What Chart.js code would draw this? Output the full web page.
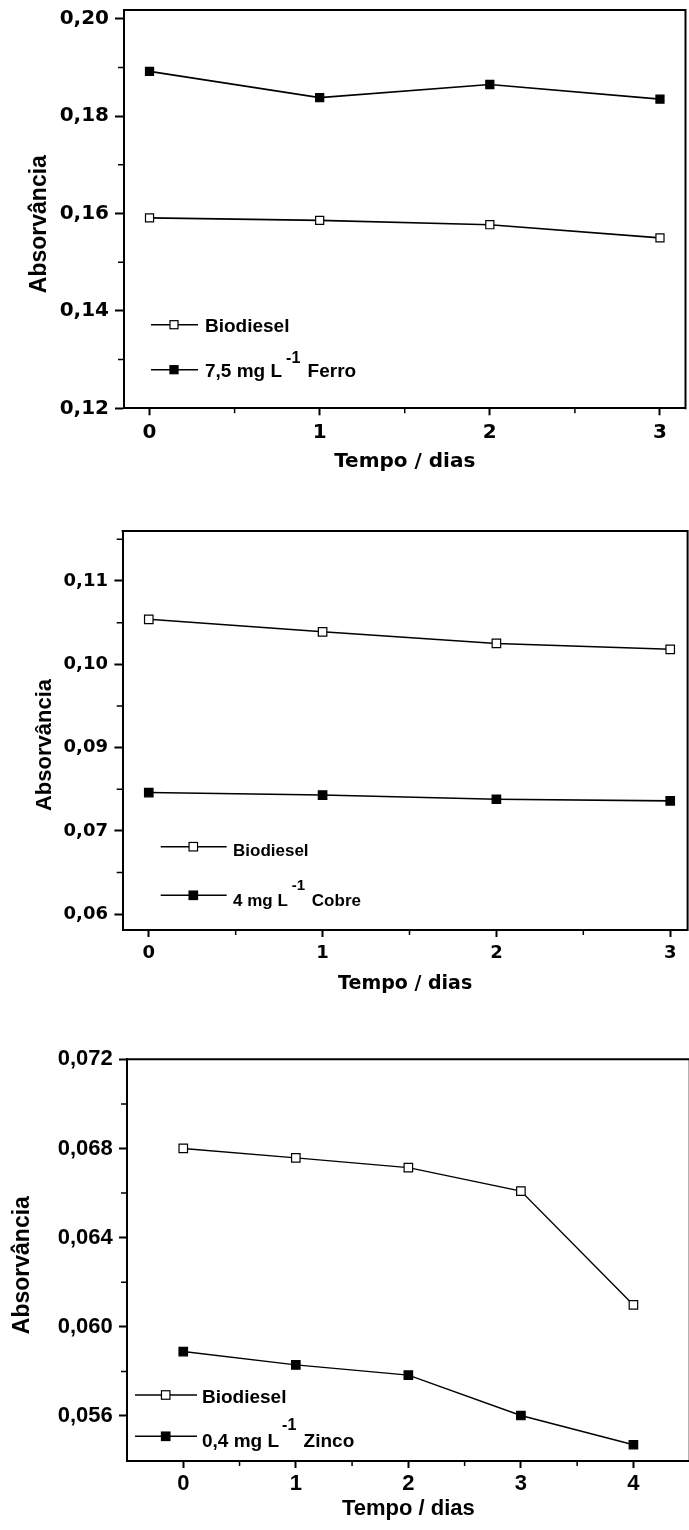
<!DOCTYPE html>
<html>
<head>
<meta charset="utf-8">
<script src="https://cdn.jsdelivr.net/npm/chart.js@4.4.1/dist/chart.umd.min.js"></script>
<style>
html,body{margin:0;padding:0;background:#fff;}
#wrap{position:relative;width:689px;height:1530px;overflow:hidden;background:#fff;}
canvas{position:absolute;left:0;}
</style>
</head>
<body>
<div id="wrap">
<canvas id="c1" width="700" height="480" style="top:0px"></canvas>
<canvas id="c2" width="700" height="520" style="top:480px"></canvas>
<canvas id="c3" width="700" height="530" style="top:1000px"></canvas>
</div>
<script>
// ---------- DATA ----------
const xTitle = 'Tempo / dias';
const yTitle = 'Absorvância';

// Panel 1 (Ferro)
const days1 = [0, 1, 2, 3];
const biodiesel1 = [0.1591, 0.1586, 0.1577, 0.1550];
const ferro = [0.1892, 0.1838, 0.1865, 0.1835];
const xTicks1 = [0, 1, 2, 3];
const yTicks1 = [0.12, 0.14, 0.16, 0.18, 0.20];
const yTickLabels1 = ['0,12', '0,14', '0,16', '0,18', '0,20'];
const legend1 = [['Biodiesel'], ['7,5 mg L', '-1', ' Ferro']];

// Panel 2 (Cobre)
const days2 = [0, 1, 2, 3];
const biodiesel2 = [0.1054, 0.1039, 0.1025, 0.1018];
const cobre = [0.0846, 0.0843, 0.0838, 0.0836];
const xTicks2 = [0, 1, 2, 3];
const yTicks2 = [0.07, 0.08, 0.09, 0.10, 0.11];
const yTickLabels2 = ['0,06', '0,07', '0,09', '0,10', '0,11'];
const legend2 = [['Biodiesel'], ['4 mg L', '-1', ' Cobre']];

// Panel 3 (Zinco)
const days3 = [0, 1, 2, 3, 4];
const biodiesel3 = [0.0680, 0.06758, 0.06714, 0.06609, 0.06098];
const zinco = [0.05889, 0.05829, 0.05783, 0.05602, 0.05471];
const xTicks3 = [0, 1, 2, 3, 4];
const yTicks3 = [0.056, 0.060, 0.064, 0.068, 0.072];
const yTickLabels3 = ['0,056', '0,060', '0,064', '0,068', '0,072'];
const legend3 = [['Biodiesel'], ['0,4 mg L', '-1', ' Zinco']];

// ---------- PLUGINS ----------
const panelDeco = {
  id: 'panelDeco',
  afterDraw(chart, args, o) {
    const ctx = chart.ctx, a = chart.chartArea;
    const xs = chart.scales.x, ys = chart.scales.y;
    ctx.save();
    ctx.strokeStyle = '#000';
    ctx.lineWidth = 2;
    ctx.beginPath();
    ctx.moveTo(a.left - 1, a.top);
    ctx.lineTo(a.right, a.top);
    ctx.lineTo(a.right, a.bottom + 1);
    ctx.stroke();
    // minor ticks (half steps between majors)
    ctx.lineWidth = 1.5;
    ctx.beginPath();
    const minor = (scale, majors) => {
      const half = (majors[1] - majors[0]) / 2;
      const out = [];
      let v = majors[0] - half * Math.floor((majors[0] - scale.min) / half + 1e-9);
      for (; v <= scale.max + 1e-12; v += half) {
        if (!majors.some(m => Math.abs(m - v) < half * 0.01)) out.push(v);
      }
      return out;
    };
    minor(xs, o.xMajor).forEach(v => {
      const px = xs.getPixelForValue(v);
      if (px < a.left + 1 || px > a.right - 1) return;
      ctx.moveTo(px, a.bottom); ctx.lineTo(px, a.bottom + o.xMinorLen);
    });
    minor(ys, o.yMajor).forEach(v => {
      const py = ys.getPixelForValue(v);
      if (py < a.top + 1 || py > a.bottom - 1) return;
      ctx.moveTo(a.left, py); ctx.lineTo(a.left - o.yMinorLen, py);
    });
    ctx.stroke();
    // vertical axis title (rotated), centred slightly below the plot middle as in the original
    ctx.fillStyle = '#000';
    ctx.font = 'bold ' + o.yTitleSize + 'px "Liberation Sans", Arial, sans-serif';
    ctx.textAlign = 'center';
    ctx.textBaseline = 'middle';
    ctx.translate(o.yTitleX, (a.top + a.bottom) / 2 + o.yTitleShift);
    ctx.rotate(-Math.PI / 2);
    ctx.fillText(yTitle, 0, 0);
    ctx.restore();
  }
};

const insetLegend = {
  id: 'insetLegend',
  afterDraw(chart, args, o) {
    const ctx = chart.ctx;
    chart.data.datasets.forEach((ds, i) => {
      const y = o.rows[i];
      ctx.save();
      ctx.strokeStyle = '#000';
      ctx.lineWidth = o.lineWidth;
      ctx.beginPath();
      ctx.moveTo(o.x0, y); ctx.lineTo(o.x1, y);
      ctx.stroke();
      const s = ds.pointRadius * Math.SQRT2;
      ctx.fillStyle = ds.pointBackgroundColor;
      ctx.fillRect(o.mx - s / 2, y - s / 2, s, s);
      ctx.lineWidth = ds.pointBorderWidth;
      ctx.strokeRect(o.mx - s / 2, y - s / 2, s, s);
      const parts = o.labels[i];
      const base = y + o.dy[i];
      ctx.fillStyle = '#000';
      ctx.textBaseline = 'alphabetic';
      ctx.textAlign = 'left';
      ctx.font = 'bold ' + o.size + 'px "Liberation Sans", Arial, sans-serif';
      let x = o.tx;
      ctx.fillText(parts[0], x, base);
      x += ctx.measureText(parts[0]).width;
      if (parts.length > 1) {
        x += o.supGap;
        ctx.font = 'bold ' + o.supSize + 'px "Liberation Sans", Arial, sans-serif';
        ctx.fillText(parts[1], x, base - o.supRaise);
        x += ctx.measureText(parts[1]).width + o.afterGap;
        ctx.font = 'bold ' + o.size + 'px "Liberation Sans", Arial, sans-serif';
        ctx.fillText(parts[2], x, base);
      }
      ctx.restore();
    });
  }
};

// ---------- BUILDERS ----------
function dataset(label, xs, ys, filled, r, lw) {
  return {
    label: label,
    data: xs.map((x, i) => ({ x: x, y: ys[i] })),
    borderColor: '#000',
    borderWidth: lw,
    pointStyle: 'rect',
    pointRadius: r,
    pointHoverRadius: r,
    pointBackgroundColor: filled ? '#000' : '#fff',
    pointBorderColor: '#000',
    pointBorderWidth: 1.2,
    tension: 0,
    fill: false,
    clip: false
  };
}

function makeChart(id, p) {
  const tickFont = { family: p.tickFamily, size: p.tickSize, weight: 'bold', lineHeight: 1.2 };
  return new Chart(document.getElementById(id), {
    type: 'line',
    data: { datasets: p.datasets },
    options: {
      responsive: false,
      animation: false,
      devicePixelRatio: 1,
      events: [],
      layout: { padding: { left: 0, top: p.top, right: 700 - p.right, bottom: 0 } },
      plugins: {
        legend: { display: false },
        tooltip: { enabled: false },
        panelDeco: { xMajor: p.xTicks, yMajor: p.yTicks, xMinorLen: 5, yMinorLen: 6, yTitleSize: p.yTitleSize, yTitleX: p.yTitleX, yTitleShift: p.yTitleShift },
        insetLegend: p.legend
      },
      scales: {
        x: {
          type: 'linear',
          min: p.xmin, max: p.xmax,
          afterBuildTicks: s => { s.ticks = p.xTicks.map(v => ({ value: v })); },
          afterFit: s => { s.height = p.H - p.bottom; s.paddingLeft = 0; s.paddingRight = 0; s.paddingTop = 0; s.paddingBottom = 0; },
          grid: { drawOnChartArea: false, drawTicks: true, tickLength: 7, tickWidth: 2, tickColor: '#000' },
          border: { display: true, color: '#000', width: 2 },
          ticks: { padding: p.xpad, color: '#000', font: tickFont, maxRotation: 0, autoSkip: false, callback: v => String(v) },
          title: { display: true, text: xTitle, color: '#000', font: { family: p.xTitleFamily, size: p.xTitleSize, weight: 'bold', lineHeight: 1.2 }, padding: { top: 0, bottom: p.xTitlePad } }
        },
        y: {
          type: 'linear',
          min: p.ymin, max: p.ymax,
          afterBuildTicks: s => { s.ticks = p.yTicks.map(v => ({ value: v })); },
          afterFit: s => { s.width = p.left; s.paddingLeft = 0; s.paddingRight = 0; s.paddingTop = 0; s.paddingBottom = 0; },
          grid: { drawOnChartArea: false, drawTicks: true, tickLength: p.yTickLen, tickWidth: 2, tickColor: '#000' },
          border: { display: true, color: '#000', width: 2 },
          ticks: { padding: p.ypad, color: '#000', font: tickFont, autoSkip: false, callback: (v, i) => p.yLabels[i] },
          title: { display: false, text: yTitle }
        }
      }
    },
    plugins: [panelDeco, insetLegend]
  });
}

// ---------- PANEL 1 ----------
makeChart('c1', {
  H: 480, top: 10, bottom: 408.3, left: 124, right: 685.5,
  xmin: -0.15, xmax: 3.15, ymin: 0.12, ymax: 0.2018,
  xTicks: xTicks1, yTicks: yTicks1, yLabels: yTickLabels1,
  tickFamily: 'DejaVu Sans', tickSize: 20, xpad: 5.7, ypad: 6, yTickLen: 9,
  xTitleFamily: 'DejaVu Sans', xTitleSize: 20, xTitlePad: 6,
  yTitleSize: 23, yTitleX: 40, yTitleShift: 15,
  datasets: [
    dataset('Biodiesel', days1, biodiesel1, false, 5.7, 1.6),
    dataset('7,5 mg L-1 Ferro', days1, ferro, true, 5.7, 1.6)
  ],
  legend: { rows: [324.7, 369.7], x0: 151, x1: 198, mx: 174, tx: 205, dy: [7, 7.6], size: 19, supSize: 16, supRaise: 14.3, supGap: 4, afterGap: 2, lineWidth: 1.6, labels: legend1 }
});

// ---------- PANEL 2 ----------
makeChart('c2', {
  H: 520, top: 51, bottom: 450, left: 122.7, right: 687.6,
  xmin: -0.15, xmax: 3.1, ymin: 0.0681, ymax: 0.1160,
  xTicks: xTicks2, yTicks: yTicks2, yLabels: yTickLabels2,
  tickFamily: 'DejaVu Sans', tickSize: 18, xpad: 5.2, ypad: 6.4, yTickLen: 8.3,
  xTitleFamily: 'DejaVu Sans', xTitleSize: 19, xTitlePad: 4.6,
  yTitleSize: 22, yTitleX: 45, yTitleShift: 14.5,
  datasets: [
    dataset('Biodiesel', days2, biodiesel2, false, 6, 1.6),
    dataset('4 mg L-1 Cobre', days2, cobre, true, 6, 1.6)
  ],
  legend: { rows: [366.7, 415.3], x0: 160.7, x1: 226.7, mx: 193.3, tx: 233, dy: [9.3, 10.7], size: 17, supSize: 15, supRaise: 16, supGap: 4, afterGap: 2, lineWidth: 1.6, labels: legend2 }
});

// ---------- PANEL 3 ----------
makeChart('c3', {
  H: 530, top: 59.3, bottom: 461, left: 127, right: 689.7,
  xmin: -0.5, xmax: 4.5, ymin: 0.05398, ymax: 0.072,
  xTicks: xTicks3, yTicks: yTicks3, yLabels: yTickLabels3,
  tickFamily: 'Liberation Sans', tickSize: 22, xpad: 2.8, ypad: 6.3, yTickLen: 8,
  xTitleFamily: 'Liberation Sans', xTitleSize: 22, xTitlePad: 8.3,
  yTitleSize: 23, yTitleX: 22.5, yTitleShift: 5,
  datasets: [
    dataset('Biodiesel', days3, biodiesel3, false, 6, 1.4),
    dataset('0,4 mg L-1 Zinco', days3, zinco, true, 6, 1.4)
  ],
  legend: { rows: [395, 436.3], x0: 135, x1: 197, mx: 165.7, tx: 202, dy: [8.3, 10.4], size: 19, supSize: 16, supRaise: 16.7, supGap: 3, afterGap: 2, lineWidth: 1.4, labels: legend3 }
});
</script>
</body>
</html>
